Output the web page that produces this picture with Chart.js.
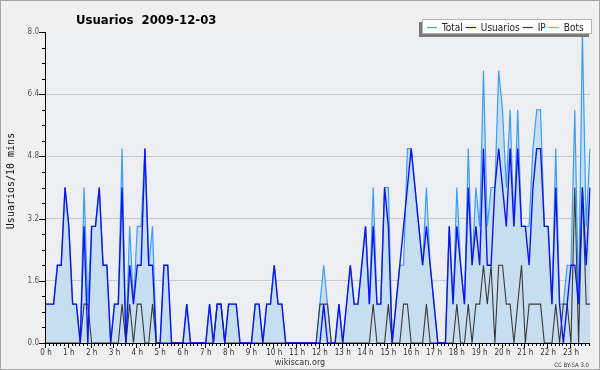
<!DOCTYPE html>
<html>
<head>
<meta charset="utf-8">
<script src="https://cdn.jsdelivr.net/npm/chart.js@4.4.1/dist/chart.umd.min.js"></script>
<style>
  html, body { margin: 0; padding: 0; background: #f0f0f0; }
  #wrap { width: 600px; height: 370px; }
</style>
</head>
<body>
<div id="wrap"><canvas id="chart" width="600" height="370"></canvas></div>
<script>
// one value per 10 minutes, 144 slots for the day
const hourLabels = ['0 h', '1 h', '2 h', '3 h', '4 h', '5 h', '6 h', '7 h', '8 h', '9 h', '10 h', '11 h',
  '12 h', '13 h', '14 h', '15 h', '16 h', '17 h', '18 h', '19 h', '20 h', '21 h', '22 h', '23 h']

const total = [
  1, 1, 1, 2, 2, 4, 3, 1, 1, 0, 4, 1,
  3, 3, 4, 2, 2, 0, 1, 1, 5, 0, 3, 1,
  3, 3, 5, 2, 3, 0, 0, 2, 2, 0, 0, 0,
  0, 1, 0, 0, 0, 0, 0, 1, 0, 1, 1, 0,
  1, 1, 1, 0, 0, 0, 0, 1, 1, 0, 1, 1,
  2, 1, 1, 0, 0, 0, 0, 0, 0, 0, 0, 0,
  1, 2, 1, 0, 0, 1, 0, 1, 2, 1, 1, 2,
  3, 1, 4, 1, 1, 4, 4, 0, 1, 2, 2, 5,
  5, 4, 3, 2, 4, 2, 1, 0, 0, 0, 3, 1,
  4, 2, 1, 5, 2, 4, 3, 7, 3, 4, 4, 7,
  6, 4, 6, 3, 6, 3, 3, 3, 5, 6, 6, 3,
  3, 1, 5, 1, 1, 2, 2, 6, 1, 8, 3, 5
]

const usuarios = [
  1, 1, 1, 2, 2, 4, 3, 1, 1, 0, 3, 0,
  3, 3, 4, 2, 2, 0, 1, 1, 4, 0, 2, 1,
  2, 2, 5, 2, 2, 0, 0, 2, 2, 0, 0, 0,
  0, 1, 0, 0, 0, 0, 0, 1, 0, 1, 1, 0,
  1, 1, 1, 0, 0, 0, 0, 1, 1, 0, 1, 1,
  2, 1, 1, 0, 0, 0, 0, 0, 0, 0, 0, 0,
  0, 1, 0, 0, 0, 1, 0, 1, 2, 1, 1, 2,
  3, 1, 3, 1, 1, 4, 3, 0, 1, 2, 3, 4,
  5, 4, 3, 2, 3, 2, 1, 0, 0, 0, 3, 1,
  3, 2, 1, 4, 2, 3, 2, 5, 2, 2, 4, 5,
  4, 3, 5, 3, 5, 3, 3, 2, 4, 5, 5, 3,
  3, 1, 4, 1, 0, 1, 2, 2, 1, 4, 2, 4
]

const ips = [
  0, 0, 0, 0, 0, 0, 0, 0, 0, 0, 1, 1,
  0, 0, 0, 0, 0, 0, 0, 0, 1, 0, 1, 0,
  1, 1, 0, 0, 1, 0, 0, 0, 0, 0, 0, 0,
  0, 0, 0, 0, 0, 0, 0, 0, 0, 1, 1, 0,
  0, 0, 0, 0, 0, 0, 0, 0, 0, 0, 0, 0,
  0, 0, 0, 0, 0, 0, 0, 0, 0, 0, 0, 0,
  1, 1, 1, 0, 0, 0, 0, 0, 0, 0, 0, 0,
  0, 0, 1, 0, 0, 0, 1, 0, 0, 0, 1, 1,
  0, 0, 0, 0, 1, 0, 0, 0, 0, 0, 0, 0,
  1, 0, 0, 1, 0, 1, 1, 2, 1, 2, 0, 2,
  2, 1, 1, 0, 1, 2, 0, 1, 1, 1, 1, 0,
  0, 0, 1, 0, 1, 1, 0, 4, 0, 4, 1, 1
]

const bots = [
  0, 0, 0, 0, 0, 0, 0, 0, 0, 0, 0, 0,
  0, 0, 0, 0, 0, 0, 0, 0, 0, 0, 0, 0,
  0, 0, 0, 0, 0, 0, 0, 0, 0, 0, 0, 0,
  0, 0, 0, 0, 0, 0, 0, 0, 0, 0, 0, 0,
  0, 0, 0, 0, 0, 0, 0, 0, 0, 0, 0, 0,
  0, 0, 0, 0, 0, 0, 0, 0, 0, 0, 0, 0,
  0, 0, 0, 0, 0, 0, 0, 0, 0, 0, 0, 0,
  0, 0, 0, 0, 0, 0, 0, 0, 0, 0, 0, 0,
  0, 0, 0, 0, 0, 0, 0, 0, 0, 0, 0, 0,
  0, 0, 0, 0, 0, 0, 0, 0, 0, 0, 0, 0,
  0, 0, 0, 0, 0, 0, 0, 0, 0, 0, 0, 0,
  0, 0, 0, 0, 0, 0, 0, 0, 0, 0, 0, 0
]

const legendOrder = ['Total', 'Usuarios', 'IP', 'Bots']

const FONT = "'DejaVu Sans Condensed', 'DejaVu Sans', sans-serif"
const slots = total.map((_, i) => i % 6 === 0 ? hourLabels[i / 6] : '')

// labelled y ticks fall on multiples of 1.6
const isMajor = v => Math.abs(v / 1.6 - Math.round(v / 1.6)) < 1e-6

Chart.defaults.font.family = FONT

const decor = {
  id: 'decor',
  beforeDraw(chart) {
    const { ctx, chartArea: a } = chart
    ctx.save()
    ctx.fillStyle = '#f0f0f0'
    ctx.fillRect(0, 0, chart.width, chart.height)
    ctx.fillStyle = '#edeef1'
    ctx.fillRect(a.left, a.top, a.right - a.left, a.bottom - a.top)
    ctx.restore()
  },
  afterDatasetsDraw(chart) {
    const { ctx, chartArea: a } = chart
    const xs = chart.scales.x
    const ys = chart.scales.y
    ctx.save()
    ctx.strokeStyle = '#000'
    ctx.lineWidth = 1
    ctx.beginPath()
    ctx.moveTo(a.left - 0.5, a.top)
    ctx.lineTo(a.left - 0.5, a.bottom + 0.5)
    ctx.lineTo(a.right, a.bottom + 0.5)
    // tick marks: hours long, 10 minutes short
    xs.ticks.forEach((t, i) => {
      const px = Math.round(xs.getPixelForTick(i)) - 0.5
      ctx.moveTo(px, a.bottom)
      ctx.lineTo(px, a.bottom + (i % 6 === 0 ? 5 : 3))
    })
    ys.ticks.forEach((t, i) => {
      const py = Math.round(ys.getPixelForTick(i)) + 0.5
      ctx.moveTo(a.left, py)
      ctx.lineTo(a.left - (isMajor(t.value) ? 7 : 4), py)
    })
    ctx.stroke()
    ctx.restore()
  },
  afterDraw(chart) {
    const { ctx } = chart
    ctx.save()

    // title
    ctx.fillStyle = '#000'
    ctx.font = `bold 13px ${FONT}`
    ctx.textBaseline = 'alphabetic'
    ctx.fillText('Usuarios  2009-12-03', 76, 24)

    // legend box with shadow
    ctx.fillStyle = '#7a7a7a'
    ctx.fillRect(419, 22, 170, 15)
    ctx.fillStyle = '#fff'
    ctx.fillRect(422, 19, 170, 15)
    ctx.strokeStyle = '#b4b4b4'
    ctx.strokeRect(422.5, 19.5, 169, 14)
    ctx.font = `10px ${FONT}`
    let lx = 427
    legendOrder.forEach(name => {
      const ds = chart.data.datasets.find(d => d.label === name)
      ctx.strokeStyle = ds.borderColor
      ctx.lineWidth = 1.2
      ctx.beginPath()
      ctx.moveTo(lx, 27.5)
      ctx.lineTo(lx + 10, 27.5)
      ctx.stroke()
      ctx.fillStyle = '#222'
      ctx.fillText(name, lx + 15, 31)
      lx += 15 + ctx.measureText(name).width + 3
    })

    // y axis title
    ctx.save()
    ctx.translate(11, 181)
    ctx.rotate(-Math.PI / 2)
    ctx.font = "10px 'DejaVu Sans Mono', monospace"
    ctx.fillStyle = '#111'
    ctx.textAlign = 'center'
    ctx.textBaseline = 'middle'
    ctx.fillText('Usuarios/10 mins', 0, 0)
    ctx.restore()

    // footer
    ctx.fillStyle = '#333'
    ctx.font = `9px ${FONT}`
    ctx.textAlign = 'center'
    ctx.fillText('wikiscan.org', 300, 365)
    ctx.font = `6px ${FONT}`
    ctx.textAlign = 'right'
    ctx.fillText('CC BY-SA 3.0', 589, 367)

    // outer frame
    ctx.strokeStyle = '#a8a8a8'
    ctx.lineWidth = 1
    ctx.strokeRect(0.5, 0.5, chart.width - 1, chart.height - 1)
    ctx.restore()
  }
}

const ctx = document.getElementById('chart').getContext('2d')

new Chart(ctx, {
  type: 'line',
  data: {
    labels: slots,
    datasets: [
      {
        label: 'Usuarios',
        data: usuarios,
        borderColor: 'rgb(14,22,240)',
        borderWidth: 1.4,
        order: 0
      },
      {
        label: 'IP',
        data: ips,
        borderColor: '#3a3a3a',
        borderWidth: 1.1,
        order: 1
      },
      {
        label: 'Total',
        data: total,
        borderColor: 'rgb(60,158,245)',
        borderWidth: 1.2,
        fill: 'origin',
        backgroundColor: 'rgb(199,221,240)',
        order: 2
      },
      {
        label: 'Bots',
        data: bots,
        borderColor: '#ff9900',
        borderWidth: 1,
        order: 3
      }
    ]
  },
  options: {
    responsive: false,
    animation: false,
    events: [],
    elements: {
      point: { radius: 0 },
      line: { tension: 0 }
    },
    layout: {
      padding: { left: 0, top: 32, right: 10, bottom: 0 }
    },
    plugins: {
      legend: { display: false },
      title: { display: false },
      tooltip: { enabled: false }
    },
    scales: {
      x: {
        offset: false,
        grid: { display: false, drawTicks: false },
        border: { display: false },
        ticks: {
          autoSkip: false,
          maxRotation: 0,
          minRotation: 0,
          padding: 5,
          color: '#333',
          font: { size: 8 }
        },
        afterFit: s => { s.height = 27 }
      },
      y: {
        min: 0,
        max: 8,
        grid: {
          drawTicks: false,
          color: c => (isMajor(c.tick.value) && c.tick.value > 0 && c.tick.value < 8) ? '#c9c9c9' : 'rgba(0,0,0,0)'
        },
        border: { display: false },
        ticks: {
          stepSize: 0.4,
          padding: 7,
          color: '#555',
          font: { size: 8 },
          callback: v => isMajor(v) ? v.toFixed(1) : ''
        },
        afterFit: s => { s.width = 46 }
      }
    }
  },
  plugins: [decor]
})
</script>
</body>
</html>
